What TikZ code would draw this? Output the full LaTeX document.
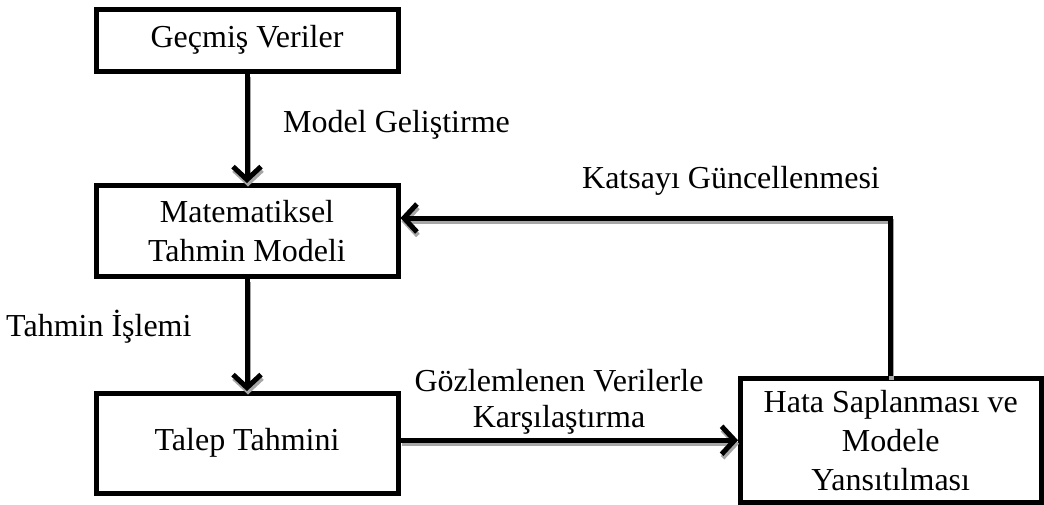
\documentclass[tikz,border=0pt]{standalone}
\usepackage{fontspec}
\setmainfont{Liberation Serif}
\usetikzlibrary{arrows.meta}
\begin{document}
\begin{tikzpicture}[x=1pt,y=-1pt,
  box/.style={draw=black,line width=5pt,inner sep=0pt,align=center,
    font=\fontsize{32}{39}\selectfont},
  lbl/.style={inner sep=0pt,align=center,font=\fontsize{32}{36}\selectfont},
  conn/.style={line width=5pt},
  shade/.style={line width=5pt,draw=gray!70},
  tip/.style={-{Straight Barb[length=13pt,width=28pt]}}
]
\useasboundingbox (0,0) rectangle (1044,504);
\node[box,minimum width=302pt,minimum height=61.5pt] (b1) at (247,40.25) {Geçmiş Veriler};
\node[box,minimum width=302pt,minimum height=90.5pt] (b2) at (247,230.75) {Matematiksel\\Tahmin Modeli};
\node[box,minimum width=302pt,minimum height=99.5pt] (b3) at (247,443.25) {Talep Tahmini};
\node[box,minimum width=300.5pt,minimum height=123.5pt] (b4) at (890.75,440.25) {Hata Saplanması ve\\Modele\\Yansıtılması};

\node[lbl,anchor=west] (l1) at (283,125) {Model Geliştirme};
\node[lbl] (l2) at (731,181) {Katsayı Güncellenmesi};
\node[lbl,anchor=west] (l3) at (6,327) {Tahmin İşlemi};
\node[lbl] (l4) at (559,402) {Gözlemlenen Verilerle\\Karşılaştırma};

\coordinate (fb) at (890.75,218);
\begin{scope}[transform canvas={xshift=1pt,yshift=-3.5pt}]
\draw[shade,tip] (b1.south) -- (b2.north);
\draw[shade,tip] (b2.south) -- (b3.north);
\draw[shade,tip] (b4.west -| b3.east) -- (b4.west);
\draw[shade,tip] (b4.north) -- (fb) -- (fb -| b2.east);
\end{scope}
\draw[conn,tip] (b1.south) -- (b2.north);
\draw[conn,tip] (b2.south) -- (b3.north);
\draw[conn,tip] (b4.west -| b3.east) -- (b4.west);
\draw[conn,tip] (b4.north) -- (fb) -- (fb -| b2.east);
\end{tikzpicture}
\end{document}
